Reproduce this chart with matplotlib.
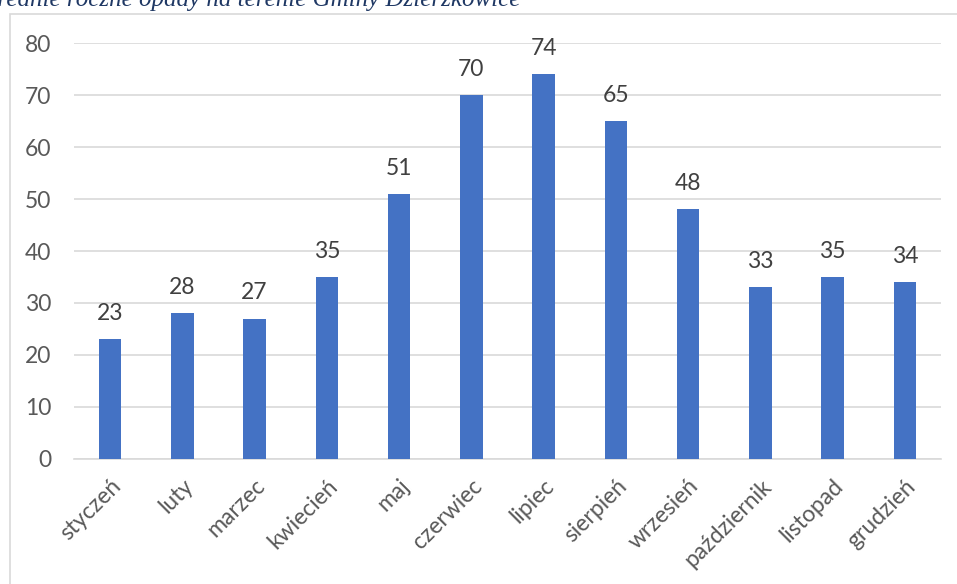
import matplotlib
matplotlib.use("Agg")
import matplotlib.pyplot as plt
from matplotlib.patches import Rectangle

months = ["styczeń", "luty", "marzec", "kwiecień", "maj", "czerwiec", "lipiec",
          "sierpień", "wrzesień", "październik", "listopad", "grudzień"]
values = [23, 28, 27, 35, 51, 70, 74, 65, 48, 33, 35, 34]
yticks = [0, 10, 20, 30, 40, 50, 60, 70, 80]
title = "Średnie roczne opady na terenie Gminy Dzierżkowice"

W, H = 957, 584
fig = plt.figure(figsize=(W / 100, H / 100), dpi=100)
fig.patch.set_facecolor("white")

# outer chart border (partially visible)
fig.patches.append(Rectangle((10 / W, -0.1), 1.2, 1 - 14 / H + 0.1,
                             transform=fig.transFigure, fill=False,
                             edgecolor="#D9D9D9", linewidth=1.2, zorder=0))

fig.text(-0.016, 1 - 6 / H, title, family="Liberation Serif", style="italic",
         fontsize=18, color="#1F3864", va="baseline", ha="left")

ax = fig.add_axes([74 / W, 1 - 458.7 / H, (941 - 74) / W, (458.7 - 43.3) / H])
x = list(range(len(months)))
ax.bar(x, values, width=0.31, color="#4472C4", zorder=3)
ax.set_xlim(-0.5, len(months) - 0.5)
ax.set_ylim(0, 80)
ax.set_yticks(yticks)
ax.set_yticklabels([str(v) for v in yticks], family="Lato", fontsize=16.5, color="#595959")
ax.set_xticks(x)
ax.set_xticklabels(months, rotation=45, ha="right", rotation_mode="anchor",
                   family="Lato", fontsize=16.5, color="#595959")
ax.tick_params(axis="both", length=0)
ax.tick_params(axis="y", pad=16.5)
ax.tick_params(axis="x", pad=12)
ax.grid(axis="y", color="#D9D9D9", linewidth=1.2, zorder=0)
for s in ["top", "right", "left"]:
    ax.spines[s].set_visible(False)
ax.spines["bottom"].set_color("#D9D9D9")
ax.spines["bottom"].set_linewidth(1.2)

for xi, v in zip(x, values):
    ax.annotate(str(v), (xi, v), xytext=(0, 11), textcoords="offset points",
                ha="center", va="bottom", family="Lato", fontsize=16.5, color="#404040")

fig.savefig("out.png", dpi=100)
